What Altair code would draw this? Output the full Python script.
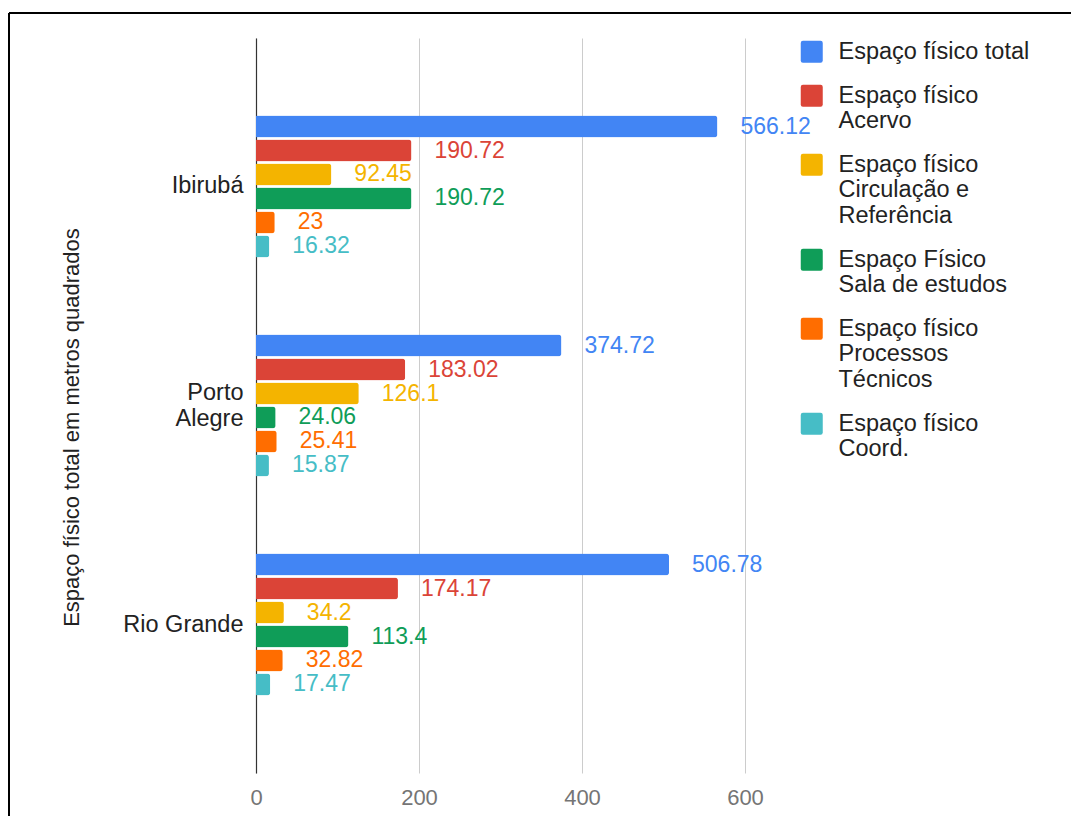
import altair as alt
import pandas as pd

# Campus libraries and the space categories measured in each (m²)
cities = ["Ibirubá", "Porto Alegre", "Rio Grande"]
series = [
    "Espaço físico total",
    "Espaço físico Acervo",
    "Espaço físico Circulação e Referência",
    "Espaço Físico Sala de estudos",
    "Espaço físico Processos Técnicos",
    "Espaço físico Coord.",
]
legend_lines = [
    ["Espaço físico total"],
    ["Espaço físico", "Acervo"],
    ["Espaço físico", "Circulação e", "Referência"],
    ["Espaço Físico", "Sala de estudos"],
    ["Espaço físico", "Processos", "Técnicos"],
    ["Espaço físico", "Coord."],
]
city_lines = [["Ibirubá"], ["Porto", "Alegre"], ["Rio Grande"]]
colors = ["#4285F4", "#DB4437", "#F4B400", "#0F9D58", "#FF6D00", "#46BDC6"]

total = [566.12, 374.72, 506.78]
acervo = [190.72, 183.02, 174.17]
circulacao = [92.45, 126.1, 34.2]
sala = [190.72, 24.06, 113.4]
processos = [23, 25.41, 32.82]
coord = [16.32, 15.87, 17.47]

values = [total, acervo, circulacao, sala, processos, coord]
rows = []
for s, vals in zip(series, values):
    for c, v in zip(cities, vals):
        rows.append({"cidade": c, "serie": s, "valor": v, "rotulo": f"{v:g}"})
df = pd.DataFrame(rows)

FONT = "Arial, Liberation Sans, sans-serif"
CITY_LINE_H = 26


def lines_expr(keys, lines, field):
    """Nested ternary that turns a label into its wrapped lines."""
    expr = field
    for k, ls in reversed(list(zip(keys, lines))):
        arr = "[" + ",".join("'" + l + "'" for l in ls) + "]"
        expr = f"{field} == '{k}' ? {arr} : ({expr})"
    return expr


def center_offset_expr(keys, lines, field):
    """Vertical shift that centres a wrapped axis label on its band."""
    expr = "0"
    for k, ls in reversed(list(zip(keys, lines))):
        off = -(len(ls) - 1) * CITY_LINE_H / 2
        expr = f"{field} == '{k}' ? {off} : ({expr})"
    return expr


PLOT_W, PLOT_H = 489, 735
LEFT, TOP = 256, 38

color_scale = alt.Scale(domain=series, range=colors)
y_enc = alt.Y(
    "cidade:N",
    sort=cities,
    scale=alt.Scale(paddingInner=0.352, paddingOuter=0.354),
    axis=alt.Axis(
        title="Espaço físico total em metros quadrados",
        titleFont=FONT,
        titleFontSize=22,
        titleFontWeight="normal",
        titleColor="#222222",
        titleAngle=-90,
        titleX=-185,
        titleY=389,
        titleAlign="center",
        titleBaseline="middle",
        labelFont=FONT,
        labelFontSize=23.5,
        labelColor="#222222",
        labelPadding=13,
        labelLineHeight=CITY_LINE_H,
        labelExpr=lines_expr(cities, city_lines, "datum.label"),
        labelOffset=alt.ExprRef(center_offset_expr(cities, city_lines, "datum.value")),
        ticks=False,
        domainColor="#333333",
        domainWidth=1.2,
    ),
)
y_off = alt.YOffset("serie:N", sort=series, scale=alt.Scale(paddingInner=0.083))
x_enc = alt.X(
    "valor:Q",
    scale=alt.Scale(domain=[0, 600], nice=False),
    axis=alt.Axis(
        title=None,
        values=[0, 200, 400, 600],
        domain=False,
        ticks=False,
        grid=True,
        gridColor="#cccccc",
        labelFont=FONT,
        labelFontSize=22,
        labelColor="#757575",
        labelPadding=14,
        labelFlush=False,
    ),
)

bars = alt.Chart(df).mark_bar(cornerRadiusEnd=3).encode(
    y=y_enc,
    yOffset=y_off,
    x=x_enc,
    color=alt.Color(
        "serie:N",
        scale=color_scale,
        sort=series,
        legend=alt.Legend(
            title=None,
            orient="none",
            legendX=544,
            legendY=2,
            symbolType="M-0.8,-1H0.8Q1,-1 1,-0.8V0.8Q1,1 0.8,1H-0.8Q-1,1 -1,0.8V-0.8Q-1,-1 -0.8,-1Z",
            symbolSize=484,
            symbolStrokeWidth=0,
            labelFont=FONT,
            labelFontSize=23.5,
            labelColor="#222222",
            labelOffset=15,
            labelLimit=400,
            rowPadding=19,
            labelExpr=lines_expr(series, legend_lines, "datum.label"),
        ),
    ),
)

labels = alt.Chart(df).mark_text(
    align="left", baseline="middle", dx=23, font=FONT, fontSize=23
).encode(
    y=alt.Y("cidade:N", sort=cities),
    yOffset=alt.YOffset("serie:N", sort=series),
    x=alt.X("valor:Q"),
    text="rotulo:N",
    color=alt.Color("serie:N", scale=color_scale, sort=series, legend=None),
)

# Outer frame: left and top edges of the bordered figure
frame_df = pd.DataFrame({"k": [0]})
frame_left = alt.Chart(frame_df).mark_rule(color="#000000", strokeWidth=2).encode(
    x=alt.value(9 - LEFT), y=alt.value(13 - TOP), y2=alt.value(816 - TOP + 10)
)
frame_top = alt.Chart(frame_df).mark_rule(color="#000000", strokeWidth=2).encode(
    x=alt.value(9 - LEFT), x2=alt.value(1071 - LEFT + 10), y=alt.value(13 - TOP)
)

chart = (
    alt.layer(bars, labels, frame_left, frame_top)
    .properties(
        width=PLOT_W,
        height=PLOT_H,
        autosize=alt.AutoSizeParams(type="none"),
        padding={"left": LEFT, "top": TOP, "right": 1071 - LEFT - PLOT_W, "bottom": 816 - TOP - PLOT_H},
        background="white",
    )
    .configure_view(stroke=None)
)

chart.save("out.html", embed_options={"renderer": "svg", "actions": False})
